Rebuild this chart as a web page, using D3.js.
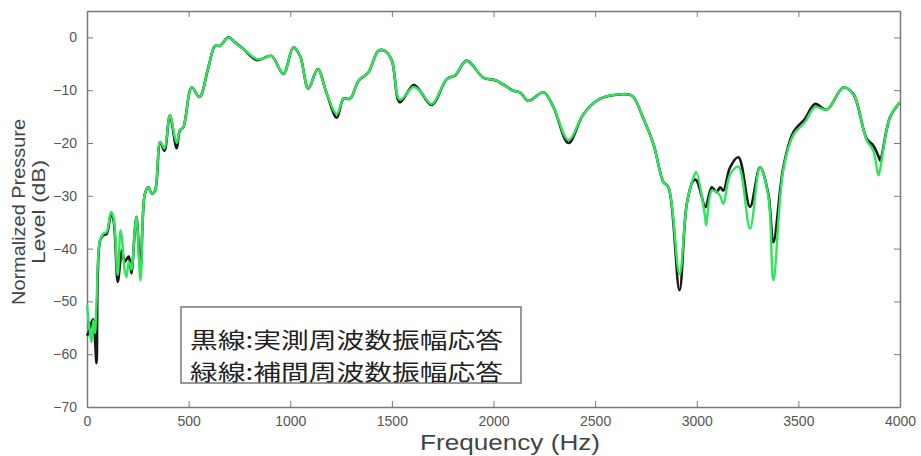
<!DOCTYPE html>
<html>
<head>
<meta charset="utf-8">
<script src="https://cdn.jsdelivr.net/npm/d3@7"></script>
<style>
  body { margin: 0; background: #fff; }
  svg { display: block; }
</style>
</head>
<body>
<div id="chart"></div>
<script>
// frequency samples (Hz) shared by both curves
const freq = [0, 12, 22, 31, 39, 47, 64, 80, 97, 118, 130, 151, 165, 172, 185, 195, 205, 213, 219, 243, 263,
  285, 302, 319, 335, 360, 381, 408, 441, 457, 474, 515, 553, 597, 630, 654, 695, 728, 769, 834, 859, 908,
  966, 1015, 1048, 1089, 1135, 1180, 1229, 1262, 1295, 1336, 1385, 1434, 1467, 1500, 1539, 1606, 1638, 1696,
  1770, 1811, 1868, 1950, 2016, 2098, 2131, 2172, 2246, 2295, 2369, 2443, 2525, 2623, 2680, 2738, 2787, 2836,
  2861, 2915, 2951, 2984, 2997, 3041, 3046, 3074, 3098, 3115, 3131, 3164, 3205, 3262, 3311, 3352, 3377, 3426,
  3475, 3533, 3582, 3639, 3721, 3770, 3836, 3869, 3894, 3902, 3951, 4000];

// 黒線: measured response (dB)
const measured = [-56.5, -55.5, -54, -53.4, -57, -61.7, -38.5, -37.5, -37.2, -33.5, -34.5, -46.3, -42, -40.3, -42.5, -42, -41.5, -43, -44.7, -34, -44,
  -29.6, -28.4, -29.6, -29, -19.8, -21.5, -14.8, -21, -17.6, -17, -9.5, -11.3, -5.7, -1.6, -1.6, 0, -0.9, -2.2, -4.3, -4.1, -3.5,
  -6.9, -1.9, -3.5, -9.7, -6, -10.7, -15.2, -11.6, -11.6, -8.2, -6.6, -2.5, -2.6, -4.4, -12.3, -9, -10.1, -12.8,
  -7.9, -7.2, -4.4, -7.6, -8.2, -10.1, -10.4, -12, -10.4, -13.2, -20, -14.5, -11.6, -10.8, -11, -15.4, -20.2, -27.4,
  -28.4, -47.9, -31.5, -27.1, -27, -32.1, -32, -28.4, -29.3, -28.4, -29, -24.6, -22.7, -32.1, -24.6, -29.6, -38.8, -24.6,
  -18, -15.4, -12.6, -13.7, -9.5, -10.7, -19.2, -20.5, -22.5, -23.3, -15.1, -12.3];

// 緑線: interpolated response (dB)
const interpolated = [-50.7, -55, -57.7, -53.6, -56, -50, -38.4, -37.2, -36.8, -33, -34, -45, -36.5, -38, -44, -45.4, -42.5, -43, -44, -34, -46,
  -29.6, -28.4, -29.6, -29, -19.8, -21, -14.8, -20, -17.6, -17, -9.5, -11.3, -5.7, -1.6, -1.6, 0, -0.9, -2.2, -4.1, -4.1, -3.5,
  -6.9, -1.9, -3.5, -9.7, -6, -10.7, -14.5, -11.6, -11.6, -8.2, -6.6, -2.5, -2.6, -4.4, -11.8, -9.4, -10.1, -12.6,
  -7.9, -7.2, -4.4, -7.6, -8.2, -10.1, -10.4, -12, -10.4, -13.2, -19.4, -14.5, -11.6, -10.8, -11, -15.4, -20.2, -27.4,
  -28.4, -44.8, -31.5, -26.5, -25.5, -34, -35.6, -29, -29.3, -30, -31.5, -26, -24.5, -36.2, -24.6, -30, -46, -25,
  -18.5, -16, -13.2, -13.7, -9.5, -10.7, -19.5, -21.5, -26.1, -25, -15.1, -12.3];

const xTicks = [0, 500, 1000, 1500, 2000, 2500, 3000, 3500, 4000];
const yTicks = [0, -10, -20, -30, -40, -50, -60, -70];
const legendLines = ["黒線:実測周波数振幅応答", "緑線:補間周波数振幅応答"];

const W = 921, H = 456;
const plot = {left: 87, right: 900, top: 11, bottom: 407};

const svg = d3.select("#chart").append("svg")
    .attr("width", W)
    .attr("height", H);

const x = d3.scaleLinear().domain([0, 4000]).range([plot.left, plot.right]);
const y = d3.scaleLinear().domain([-70, 5]).range([plot.bottom, plot.top]);

const tickColor = "#7a7a7a";
const labelFont = "'Liberation Sans', Arial, sans-serif";

// axes on all four sides, ticks pointing in
const styleAxis = g => {
    g.select(".domain").attr("stroke", tickColor).attr("stroke-width", 1.5);
    g.selectAll(".tick line").attr("stroke", tickColor).attr("stroke-width", 1);
    g.selectAll(".tick text").attr("fill", "#555").attr("font-family", labelFont).attr("font-size", 14);
};

svg.append("g")
    .attr("transform", `translate(0,${plot.bottom})`)
    .call(d3.axisBottom(x).tickValues(xTicks).tickSize(-6).tickPadding(9).tickSizeOuter(0).tickFormat(d3.format("d")))
    .call(styleAxis);
svg.append("g")
    .attr("transform", `translate(0,${plot.top})`)
    .call(d3.axisTop(x).tickValues(xTicks).tickSize(-6).tickFormat("").tickSizeOuter(0))
    .call(styleAxis);
svg.append("g")
    .attr("transform", `translate(${plot.left},0)`)
    .call(d3.axisLeft(y).tickValues(yTicks).tickSize(-6).tickPadding(10).tickSizeOuter(0))
    .call(styleAxis);
svg.append("g")
    .attr("transform", `translate(${plot.right},0)`)
    .call(d3.axisRight(y).tickValues(yTicks).tickSize(-6).tickFormat("").tickSizeOuter(0))
    .call(styleAxis);

// curves
const line = d3.line()
    .x(d => x(d[0]))
    .y(d => y(d[1]))
    .curve(d3.curveCatmullRom.alpha(0.5));

const blackData = d3.zip(freq, measured);
const greenData = d3.zip(freq, interpolated);

svg.append("path")
    .datum(blackData)
    .attr("fill", "none")
    .attr("stroke", "#1a1a1a")
    .attr("stroke-width", 2.6)
    .attr("stroke-linejoin", "round")
    .attr("d", line);

svg.append("path")
    .datum(greenData)
    .attr("fill", "none")
    .attr("stroke", "#2ee65a")
    .attr("stroke-width", 2.4)
    .attr("stroke-linejoin", "round")
    .attr("d", line);

// legend box
const leg = svg.append("g").attr("transform", "translate(181,307)");
leg.append("rect")
    .attr("width", 340)
    .attr("height", 76)
    .attr("fill", "#fff")
    .attr("stroke", "#777")
    .attr("stroke-width", 1.5);
leg.selectAll("text")
    .data(legendLines)
    .join("text")
    .attr("x", 9)
    .attr("y", (d, i) => 41 + i * 31.5)
    .attr("font-family", "'Noto Sans CJK JP', sans-serif")
    .attr("font-size", 21.5)
    .attr("fill", "#222")
    .attr("textLength", 313)
    .attr("lengthAdjust", "spacingAndGlyphs")
    .text(d => d);

// axis titles
svg.append("text")
    .attr("x", 510)
    .attr("y", 450)
    .attr("text-anchor", "middle")
    .attr("font-family", labelFont)
    .attr("font-size", 22)
    .attr("fill", "#444")
    .attr("textLength", 180)
    .attr("lengthAdjust", "spacingAndGlyphs")
    .text("Frequency (Hz)");

const yl = svg.append("text")
    .attr("transform", "translate(25,212) rotate(-90)")
    .attr("text-anchor", "middle")
    .attr("font-family", labelFont)
    .attr("font-size", 19)
    .attr("fill", "#444");
yl.append("tspan").attr("x", 0).attr("dy", 0).attr("textLength", 186).attr("lengthAdjust", "spacingAndGlyphs").text("Normalized Pressure");
yl.append("tspan").attr("x", 0).attr("dy", 20).attr("textLength", 104).attr("lengthAdjust", "spacingAndGlyphs").text("Level (dB)");
</script>
</body>
</html>
